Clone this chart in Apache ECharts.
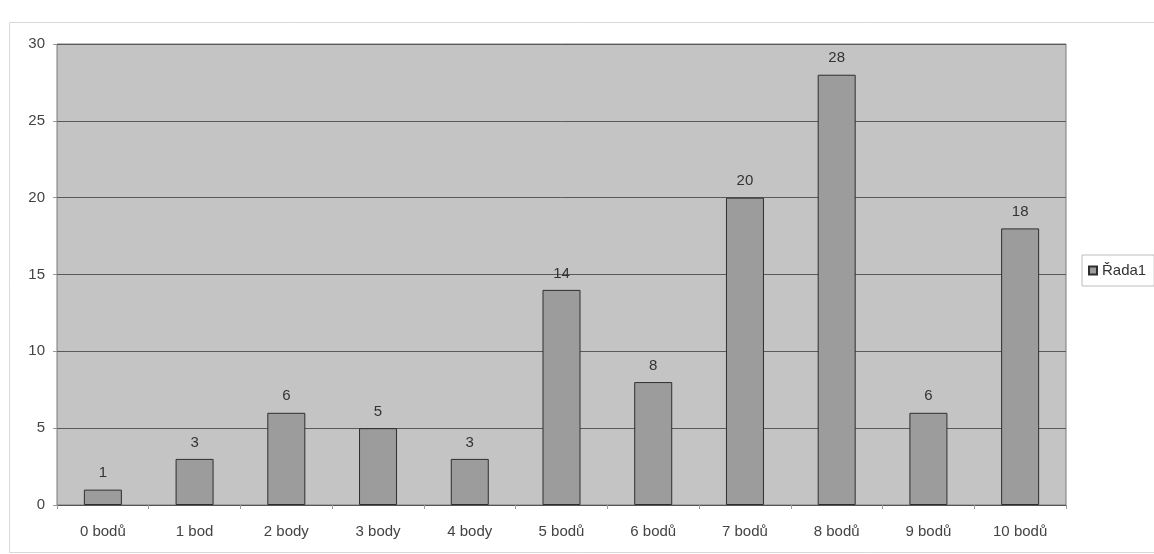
<!DOCTYPE html>
<html><head><meta charset="utf-8">
<script src="https://cdn.jsdelivr.net/npm/echarts@6/dist/echarts.min.js"></script>
<style>html,body{margin:0;padding:0;background:#fff}#c{width:1154px;height:554px}</style>
</head><body><div id="c"></div>
<script>
const categories = ['0 bodů','1 bod','2 body','3 body','4 body','5 bodů','6 bodů','7 bodů','8 bodů','9 bodů','10 bodů'];
const values = [1,3,6,5,3,14,8,20,28,6,18];
const seriesName = 'Řada1';

const chart = echarts.init(document.getElementById('c'));
chart.setOption({
  backgroundColor: '#ffffff',
  animation: false,
  textStyle: { fontFamily: 'Liberation Sans, Arial, sans-serif' },
  graphic: [{
    type: 'rect', left: 7, top: 20, shape: { width: 1160, height: 530 },
    style: { fill: 'none', stroke: '#d8d8d8', lineWidth: 1 }, silent: true
  }],
  grid: { left: 57, right: 88, top: 44, bottom: 49, show: true,
    backgroundColor: '#c4c4c4', borderColor: '#7a7a7a', borderWidth: 1 },
  legend: {
    data: [seriesName], left: 1082, top: 255, orient: 'vertical',
    itemWidth: 8, itemHeight: 8, itemGap: 4, padding: [8, 8, 8, 6],
    borderColor: '#bdbdbd', borderWidth: 1,
    textStyle: { fontSize: 15, color: '#333' }, icon: 'rect'
  },
  xAxis: {
    type: 'category', data: categories,
    axisLine: { show: true, lineStyle: { color: '#555' } },
    axisTick: { show: true, alignWithLabel: false, length: 4, lineStyle: { color: '#999' } },
    axisLabel: { color: '#444', fontSize: 15, margin: 19 }
  },
  yAxis: {
    type: 'value', min: 0, max: 30, interval: 5,
    axisLine: { show: false }, axisTick: { show: true, length: 4, lineStyle: { color: '#999' } },
    axisLabel: { color: '#444', fontSize: 15, margin: 12 },
    splitLine: { show: true, lineStyle: { color: '#5a5a5a', width: 1 } }
  },
  series: [{
    name: seriesName, type: 'bar', data: values, barWidth: 38,
    itemStyle: { color: '#9c9c9c', borderColor: '#2e2e2e', borderWidth: 1 },
    label: { show: true, position: 'top', distance: 9, color: '#333', fontSize: 15 }
  }]
});
</script></body></html>
